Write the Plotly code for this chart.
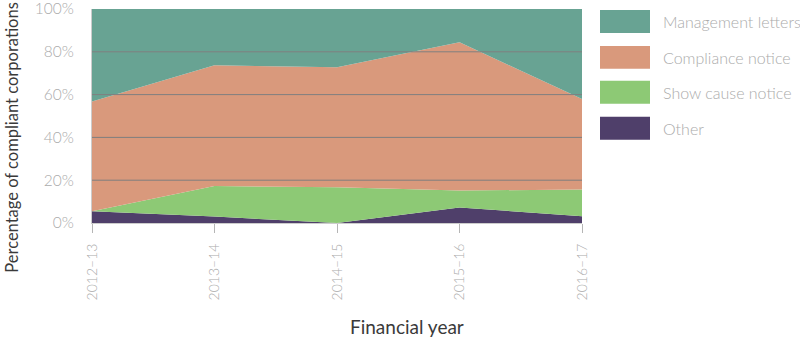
import plotly.graph_objects as go

# Financial years and share of compliant corporations (%) by outcome
years = ["2012–13", "2013–14", "2014–15", "2015–16", "2016–17"]
other = [5.5, 3.0, 0.0, 7.2, 3.2]
show_cause = [0.0, 14.3, 16.7, 8.0, 12.4]
compliance = [51.3, 56.4, 56.1, 69.3, 42.3]
management = [43.2, 26.3, 27.2, 15.5, 42.1]

series = [
    ("Other", other, "#4f3f6a"),
    ("Show cause notice", show_cause, "#8dc975"),
    ("Compliance notice", compliance, "#d9997c"),
    ("Management letters", management, "#68a393"),
]

y_ticks = [0, 20, 40, 60, 80, 100]
y_tick_text = [f"{v}%" for v in y_ticks]

FONT = "Lato"
LIGHT = "#ababab"
DARK = "#3a3a3a"

fig = go.Figure()
for name, vals, color in series:
    fig.add_trace(go.Scatter(
        x=years, y=vals, name=name, mode="lines",
        stackgroup="one", line=dict(width=0, color=color),
        fillcolor=color, showlegend=False,
    ))

# Plot-area geometry in pixels (for the hand-built legend)
W, H = 800, 340
L, R, T, B = 92, 218, 9, 116.5
pw, ph = W - L - R, H - T - B

def px_x(x):
    return (x - L) / pw

def px_y(y):
    return (H - B - y) / ph

shapes = []
# Gridlines drawn over the filled areas
for v in y_ticks[1:-1]:
    shapes.append(dict(type="line", xref="paper", yref="y", x0=0, x1=1, y0=v, y1=v,
                       line=dict(color="#7f7f7f", width=1), layer="above"))

annotations = []
# Legend (top to bottom: reverse of stacking order)
legend_rows = [(10, 33), (46, 69), (81, 104), (117, 140)]
for (name, _, color), (y0, y1) in zip(series[::-1], legend_rows):
    shapes.append(dict(type="rect", xref="paper", yref="paper",
                       x0=px_x(600), x1=px_x(650), y0=px_y(y1), y1=px_y(y0),
                       fillcolor=color, line=dict(width=0)))
    annotations.append(dict(xref="paper", yref="paper", x=px_x(661), y=px_y((y0 + y1) / 2),
                            text=name, showarrow=False, xanchor="left", yanchor="middle",
                            font=dict(family=FONT, size=16, color=LIGHT, weight=300)))

# Axis titles
annotations.append(dict(xref="paper", yref="paper", x=px_x(12), y=px_y(138),
                        text="Percentage of compliant corporations", textangle=-90,
                        showarrow=False, xanchor="center", yanchor="middle",
                        font=dict(family=FONT, size=16.5, color=DARK)))
annotations.append(dict(xref="paper", yref="paper", x=px_x(407), y=px_y(327),
                        text="Financial year", showarrow=False,
                        xanchor="center", yanchor="middle",
                        font=dict(family=FONT, size=19, color=DARK)))

fig.update_layout(
    width=W, height=H,
    margin=dict(l=L, r=R, t=T, b=B),
    paper_bgcolor="white", plot_bgcolor="white",
    shapes=shapes, annotations=annotations,
    showlegend=False,
    xaxis=dict(
        type="category", range=[0, len(years) - 1], automargin=False,
        showgrid=False, showline=True, linecolor="#cccccc", linewidth=1,
        ticks="outside", ticklen=9, tickcolor="#b5b5b5", tickwidth=1,
        tickangle=-90, tickfont=dict(family=FONT, size=14, color=LIGHT, weight=300),
        ticklabelstandoff=5,
    ),
    yaxis=dict(
        range=[0, 100], tickvals=y_ticks, ticktext=y_tick_text, automargin=False,
        showgrid=False, zeroline=False, showline=True, linecolor="#cccccc", linewidth=1,
        ticks="", ticklabelstandoff=14, ticklabeloverflow="allow",
        tickfont=dict(family=FONT, size=15.5, color=LIGHT, weight=300),
    ),
)

fig.write_html("out.html")
